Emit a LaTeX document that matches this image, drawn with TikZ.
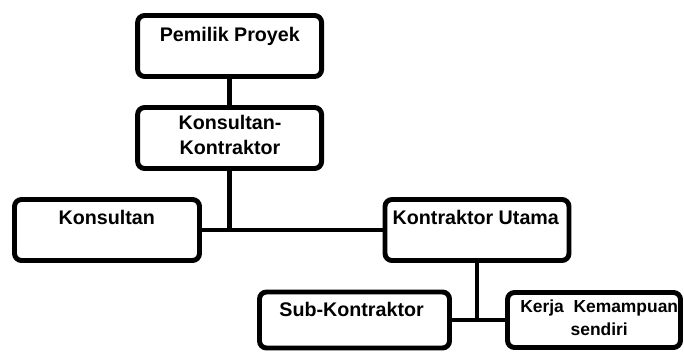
\documentclass[tikz,border=0pt]{standalone}
\usepackage{fontspec}
\setmainfont{Liberation Sans}
\usepackage{tikz}
\usetikzlibrary{positioning, calc}

\tikzset{
  orgbox/.style={draw, line width=3.5pt, rounded corners=5pt, minimum height=1.525cm, inner sep=0pt},
  link/.style={line width=3.5pt},
  boxtext/.style={font=\bfseries\fontsize{14}{17.7}\selectfont, inner sep=0pt, align=center}
}

\begin{document}
\begin{tikzpicture}
    \useasboundingbox (0,0) rectangle (17.1,8.8);

    % Boxes
    \node[orgbox, minimum width=4.6cm] (pemilik) at (5.74,7.65) {};
    \node[orgbox, minimum width=4.6cm] (konkon) at (5.74,5.35) {};
    \node[orgbox, minimum width=4.625cm] (konsultan) at (2.675,3.05) {};
    \node[orgbox, minimum width=4.6cm] (utama) at (11.925,3.05) {};
    \node[orgbox, minimum width=4.75cm, minimum height=1.4cm] (sub) at (8.8625,0.8) {};
    \node[orgbox, minimum width=4.325cm, minimum height=1.375cm] (kerja) at (14.85,0.8) {};

    % Box texts
    \node[boxtext, anchor=base] (tpemilik) at (5.745,7.75) {Pemilik Proyek};
    \node[boxtext, anchor=north] (tkonkon) at (5.75,5.925) {Konsultan-\\Kontraktor};
    \node[boxtext, anchor=base] (tkonsultan) at (2.667,3.2) {Konsultan};
    \node[boxtext, anchor=base] (tutama) at (11.895,3.2) {Kontraktor Utama};
    \node[boxtext, anchor=base] (tsub) at (8.79,0.8825) {Sub-Kontraktor};
    \node[boxtext, anchor=north, font=\bfseries\fontsize{12.4}{16.5}\selectfont] (tkerja) at (14.98,1.32) {Kerja\ \ Kemampuan\\sendiri};

    % Junctions
    \coordinate (j1) at (konkon.south |- konsultan.east);
    \coordinate (j2) at (utama.south |- sub.east);

    % Connectors
    \draw[link] (pemilik) -- (konkon);
    \draw[link] (konkon) -- (j1);
    \draw[link] (konsultan) -- (utama);
    \draw[link] (utama) -- (j2);
    \draw[link] (sub) -- (kerja);
\end{tikzpicture}
\end{document}
